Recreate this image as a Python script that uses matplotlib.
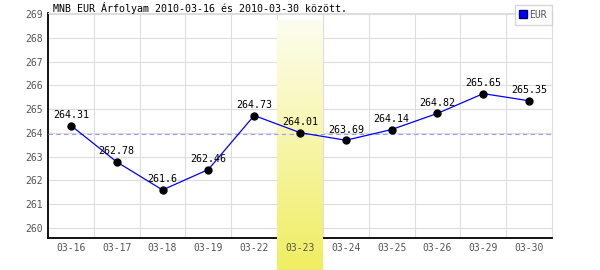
import numpy as np
import matplotlib
matplotlib.use('Agg')
import matplotlib.pyplot as plt
import matplotlib.transforms as mtransforms
from matplotlib.colors import LinearSegmentedColormap

# data
dates = ['03-16', '03-17', '03-18', '03-19', '03-22', '03-23',
         '03-24', '03-25', '03-26', '03-29', '03-30']
eur = [264.31, 262.78, 261.6, 262.46, 264.73, 264.01,
       263.69, 264.14, 264.82, 265.65, 265.35]
highlight = '03-23'
yticks = list(range(260, 270))

font = 'DejaVu Sans Mono'
plt.rcParams['font.family'] = font

fig = plt.figure(figsize=(6, 2.7), dpi=100)
# plot area in pixels: x 48..552, y 13..238
ax = fig.add_axes([48/600, 1 - 238/270, 504/600, 225/270])

x = np.arange(len(dates))
ax.set_xlim(-0.5, len(dates) - 0.5)
ax.set_ylim(259.58, 269.04)

# grid
ax.set_yticks(yticks)
ax.set_yticklabels([str(v) for v in yticks], color='#555555', fontsize=7)
ax.set_xticks(x[:-1] + 0.5, minor=False)
ax.set_xticklabels([])
ax.tick_params(axis='both', length=0, pad=4)
ax.grid(True, color='#dddddd', linewidth=0.8)
for s in ['top', 'right']:
    ax.spines[s].set_color('#dddddd')
    ax.spines[s].set_linewidth(0.8)
for s in ['left', 'bottom']:
    ax.spines[s].set_color('black')
    ax.spines[s].set_linewidth(1.3)

# highlighted day band (white -> yellow), covers grid and axis
hi = dates.index(highlight)
cmap = LinearSegmentedColormap.from_list('hl', ['#fdfdf0', '#f0ee60'])
grad = np.linspace(0, 1, 256).reshape(-1, 1)
trans = mtransforms.blended_transform_factory(ax.transData, fig.transFigure)
ax.imshow(grad, cmap=cmap, aspect='auto', origin='upper',
          extent=[hi - 0.5, hi + 0.5, 0, 1 - 20/270],
          transform=trans, zorder=2.7, clip_on=False)

# x labels as text so they sit on top of the band
for i, d in enumerate(dates):
    ax.text(i, 1 - 248/270, d, transform=trans, ha='center', va='center',
            fontsize=7, color='#555555', zorder=4)

# average line
ax.axhline(np.mean(eur), color='#9999ff', linewidth=0.8, linestyle=(0, (4, 3)),
           zorder=3)

ax.plot(x, eur, color='#0000ff', linewidth=0.9, zorder=3.5)
ax.plot(x, eur, 'o', color='black', markersize=5, zorder=3.6)

for i, v in enumerate(eur):
    ax.annotate(f'{v:g}', (i, v), xytext=(0, 4), textcoords='offset points',
                ha='center', va='bottom', fontsize=7.2, color='black', zorder=4)

# title
fig.text(53/600, 1 - 8.5/270, 'MNB EUR Árfolyam 2010-03-16 és 2010-03-30 között.',
         fontsize=7.2, color='black', ha='left', va='center')

# legend
leg = ax.legend(handles=[plt.Line2D([], [], marker='s', color='#0000ff', linestyle='none',
                                    markersize=6, markeredgecolor='#000066')],
                labels=['EUR'], loc='upper right', bbox_to_anchor=(552/600, 1 - 5/270),
                bbox_transform=fig.transFigure, frameon=True, fancybox=False,
                fontsize=7, handlelength=0.7, handletextpad=0.3, borderpad=0.5,
                borderaxespad=0)
leg.get_frame().set_edgecolor('#cccccc')
leg.get_frame().set_linewidth(1)
for t in leg.get_texts():
    t.set_color('#555555')
leg.set_zorder(5)

fig.savefig('out.png', dpi=100)
